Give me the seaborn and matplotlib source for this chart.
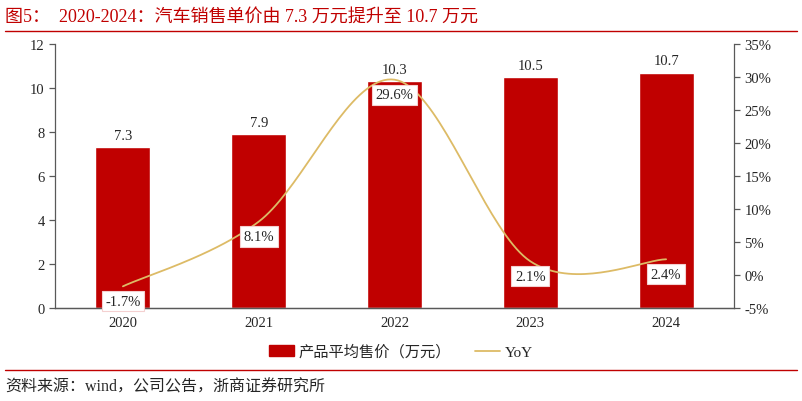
import numpy as np
import pandas as pd
import matplotlib
matplotlib.use("Agg")
import matplotlib.pyplot as plt
import seaborn as sns
from matplotlib.lines import Line2D
from matplotlib.patches import Patch

# Chart data
years = ["2020", "2021", "2022", "2023", "2024"]
price = [7.3, 7.9, 10.3, 10.5, 10.7]          # 产品平均售价（万元）
yoy = [-1.7, 8.1, 29.6, 2.1, 2.4]             # YoY, %

title = "图5：  2020-2024：汽车销售单价由 7.3 万元提升至 10.7 万元"
source = "资料来源：wind，公司公告，浙商证券研究所"

RED = "#C00000"
GOLD = "#DDBB66"
FONTS = ["Liberation Serif", "Noto Sans CJK SC"]

sns.set_style("white")
plt.rcParams["font.family"] = FONTS
plt.rcParams["axes.unicode_minus"] = False


def smooth(xs, ys, n=40):
    # Excel-like smoothed line (cubic Bezier, Catmull-Rom control points)
    xs, ys = np.asarray(xs, float), np.asarray(ys, float)
    px, py = [], []
    for i in range(len(xs) - 1):
        x0, y0 = (xs[i - 1], ys[i - 1]) if i > 0 else (xs[i], ys[i])
        x3, y3 = (xs[i + 2], ys[i + 2]) if i + 2 < len(xs) else (xs[i + 1], ys[i + 1])
        c1 = (xs[i] + (xs[i + 1] - x0) / 6, ys[i] + (ys[i + 1] - y0) / 6)
        c2 = (xs[i + 1] - (x3 - xs[i]) / 6, ys[i + 1] - (y3 - ys[i]) / 6)
        t = np.linspace(0, 1, n)
        px.append((1 - t) ** 3 * xs[i] + 3 * (1 - t) ** 2 * t * c1[0] + 3 * (1 - t) * t ** 2 * c2[0] + t ** 3 * xs[i + 1])
        py.append((1 - t) ** 3 * ys[i] + 3 * (1 - t) ** 2 * t * c1[1] + 3 * (1 - t) * t ** 2 * c2[1] + t ** 3 * ys[i + 1])
    return np.concatenate(px), np.concatenate(py)


df = pd.DataFrame({"year": years, "price": price, "yoy": yoy})

fig = plt.figure(figsize=(8.02, 4.02), dpi=100)
ax = fig.add_axes([0.0686, 0.231, 0.8466, 0.657])

sns.barplot(data=df, x="year", y="price", color=RED, saturation=1, width=0.405, ax=ax)
ax.set_xlim(-0.5, 4.5)
ax.set_ylim(0, 12)
ax.set_yticks(range(0, 13, 2))
ax.set_xlabel("")
ax.set_ylabel("")
for i, v in enumerate(price):
    ax.text(i, v + 0.25, f"{v:.1f}", ha="center", va="bottom", fontsize=10.5)

ax2 = ax.twinx()
sx, sy = smooth(range(len(years)), yoy)
ax2.plot(sx, sy, color=GOLD, lw=1.3)
ax2.set_ylim(-5, 35)
ax2.set_yticks(range(-5, 36, 5))
ax2.set_yticklabels([f"{t}%" for t in range(-5, 36, 5)])
for i, v in enumerate(yoy):
    ax2.annotate(f"{v:.1f}%", (i, v), xytext=(0, -15), textcoords="offset pixels",
                 ha="center", va="center", fontsize=10.5,
                 bbox=dict(boxstyle="square,pad=0.25", fc="white", ec="#F4D0D0", lw=0.8))

for a in (ax, ax2):
    a.spines["top"].set_visible(False)
    for s in ("left", "right", "bottom"):
        a.spines[s].set_color("#595959")
        a.spines[s].set_linewidth(0.9)
    a.tick_params(labelsize=10.5, length=4, width=0.9, color="#595959", direction="out")
ax.spines["right"].set_visible(False)
ax2.spines["left"].set_visible(False)
ax.tick_params(axis="x", length=0, pad=6)
# category boundary ticks on the x axis
ax.set_xticks(np.arange(-0.5, 4.6, 1), minor=True)
ax.tick_params(axis="x", which="minor", length=4, width=0.9, color="#595959")

handles = [Patch(color=RED, label="产品平均售价（万元）"),
           Line2D([], [], color=GOLD, lw=1.3, label="YoY")]
fig.legend(handles=handles, loc="center", bbox_to_anchor=(0.5, 0.123), ncol=2,
           frameon=False, fontsize=11, handlelength=1.6, columnspacing=1.6,
           handletextpad=0.3)

fig.text(0.006, 0.957, title, color=RED, fontsize=13, va="center", ha="left")
fig.add_artist(Line2D([0.006, 0.994], [0.920, 0.920], color=RED, lw=1))
fig.add_artist(Line2D([0.006, 0.994], [0.077, 0.077], color=RED, lw=1))
fig.text(0.006, 0.037, source, fontsize=11.5, va="center", ha="left")

fig.savefig("out.png", dpi=100)
